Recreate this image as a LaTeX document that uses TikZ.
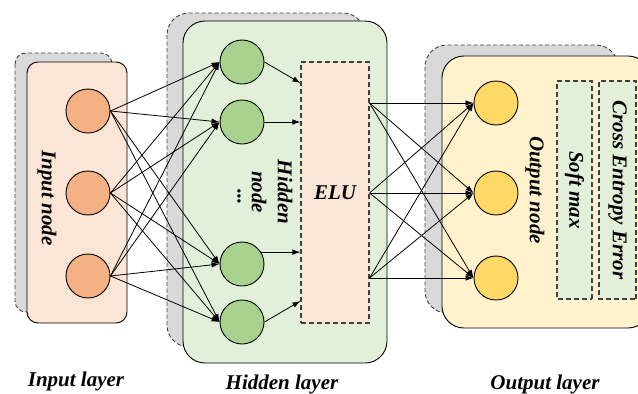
\documentclass[tikz,border=0pt]{standalone}
\usepackage{fontspec}
\setmainfont{Liberation Serif}
\usetikzlibrary{arrows.meta}

\definecolor{peach}{HTML}{FBE5D6}
\definecolor{orangeN}{HTML}{F4B183}
\definecolor{paleGreen}{HTML}{E2F0D9}
\definecolor{greenN}{HTML}{A9D18E}
\definecolor{paleGold}{HTML}{FFF2CC}
\definecolor{goldN}{HTML}{FFD966}
\definecolor{shadowGray}{HTML}{D9D9D9}
\definecolor{dashGray}{HTML}{404040}

\tikzset{
  shadowbox/.style={draw=dashGray, fill=shadowGray, dash pattern=on 4pt off 2.5pt, line width=0.9pt},
  layerbox/.style={draw=black, line width=0.9pt},
  neuron/.style={circle, draw=black, line width=0.9pt, minimum size=44pt, inner sep=0pt},
  conn/.style={-{Latex[length=8pt,width=5.5pt]}, line width=0.8pt},
  lbl/.style={font=\fontsize{21}{25}\selectfont\bfseries\itshape, inner sep=0pt},
  dashbox/.style={draw=dashGray, dash pattern=on 5pt off 3pt, line width=1.1pt, inner sep=0pt},
}

\begin{document}
\begin{tikzpicture}[x=1pt, y=-1pt]
\useasboundingbox (0,0) rectangle (638,394);

% ---------- layer panels (shadow behind, panel in front) ----------
\draw[shadowbox, rounded corners=11pt] (15,53) rectangle (112,312);
\draw[layerbox, fill=peach, rounded corners=11pt] (27,62) rectangle (127,323);

\draw[shadowbox, rounded corners=22pt] (167,13) rectangle (365,347);
\draw[layerbox, fill=paleGreen, rounded corners=22pt] (183,21) rectangle (387,363);

\draw[shadowbox, rounded corners=22pt] (425,45) rectangle (618,313);
\draw[layerbox, fill=paleGold, rounded corners=22pt] (442,56) rectangle (650,328);

% ---------- input layer ----------
\node[neuron, fill=orangeN] (i1) at (88,111) {};
\node[neuron, fill=orangeN] (i2) at (88,193) {};
\node[neuron, fill=orangeN] (i3) at (88,276) {};
\node[lbl, rotate=-90] (inode) at (47,198) {Input node};

% ---------- hidden layer ----------
\node[neuron, fill=greenN] (h1) at (242,62) {};
\node[neuron, fill=greenN] (h2) at (242,122) {};
\node[neuron, fill=greenN] (h3) at (242,264) {};
\node[neuron, fill=greenN] (h4) at (242,322) {};
\node[lbl, rotate=-90, align=center] (hnode) at (272,192) {Hidden\\[1pt]node};
\node[lbl, rotate=-90] (hdots) at (239,197) {...};

\node[dashbox, fill=peach, minimum width=68pt, minimum height=261pt, lbl] (elu) at (335,192.5) {ELU};

% ---------- output layer ----------
\node[neuron, fill=goldN] (o1) at (496,103) {};
\node[neuron, fill=goldN] (o2) at (496,193) {};
\node[neuron, fill=goldN] (o3) at (496,278) {};
\node[lbl, rotate=-90] (onode) at (535,190) {Output node};

\node[dashbox, fill=paleGreen, rotate=-90, minimum width=218pt, minimum height=35pt, lbl] (smax) at (574.5,190) {Soft max};
\node[dashbox, fill=paleGreen, rotate=-90, minimum width=218pt, minimum height=37pt, lbl] (cee) at (617.5,190) {Cross Entropy Error};

% ---------- connections: input -> hidden ----------
\foreach \i in {1,2,3}
  \foreach \h in {1,2,3,4}
    \draw[conn] (i\i.east) -- (h\h.west);

% ---------- connections: hidden -> ELU ----------
\coordinate (t1) at (elu.west |- 0,83);
\coordinate (t2) at (elu.west |- h2);
\coordinate (t3) at (elu.west |- h3.32);
\coordinate (t4) at (elu.west |- 0,301);
\draw[conn] (h1.east) -- (t1);
\draw[conn] (h2.east) -- (t2);
\draw[conn] (h3.32) -- (t3);
\draw[conn] (h4.east) -- (t4);

% ---------- connections: ELU -> output ----------
\coordinate (e1) at (elu.east |- o1);
\coordinate (e2) at (elu.east |- o2);
\coordinate (e3) at (elu.east |- o3);
\foreach \e in {1,2,3}
  \foreach \o in {1,2,3}
    \draw[conn] (e\e) -- (o\o.west);

% ---------- captions ----------
\node[lbl] (capin) at (76,381) {Input layer};
\node[lbl] (caphid) at (282,384) {Hidden layer};
\node[lbl] (capout) at (545,384) {Output layer};
\end{tikzpicture}
\end{document}
